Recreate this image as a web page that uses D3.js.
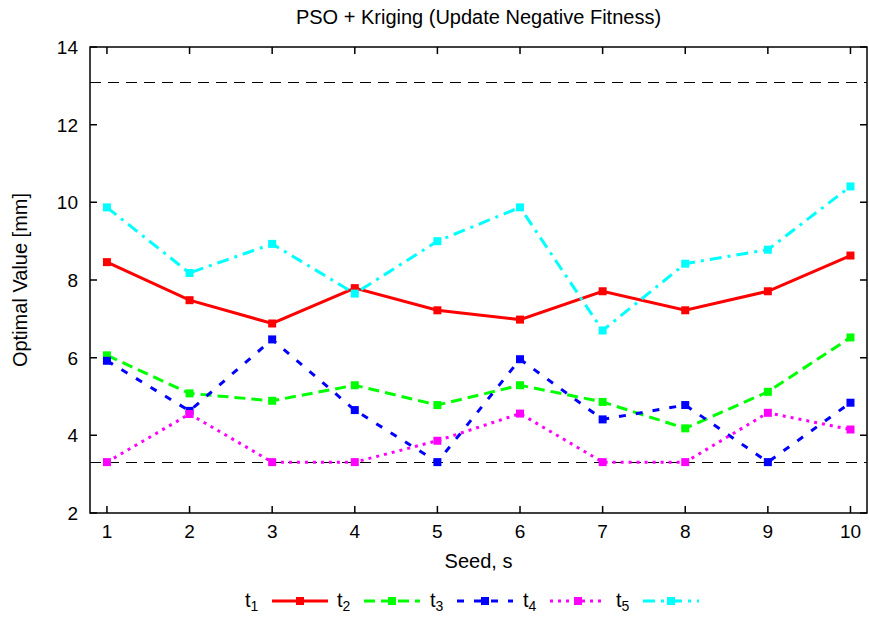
<!DOCTYPE html>
<html>
<head>
<meta charset="utf-8">
<script src="https://cdn.jsdelivr.net/npm/d3@7"></script>
<style>
  body { margin: 0; background: #fff; }
  svg { font-family: "Liberation Sans", Arial, sans-serif; }
</style>
</head>
<body>
<svg width="869" height="619"></svg>
<script>
(function () {
    'use strict';

    const seeds = [1, 2, 3, 4, 5, 6, 7, 8, 9, 10];
    const t1 = [8.46, 7.48, 6.88, 7.79, 7.22, 6.98, 7.71, 7.22, 7.71, 8.63];
    const t2 = [6.06, 5.08, 4.89, 5.29, 4.78, 5.29, 4.86, 4.18, 5.12, 6.52];
    const t3 = [5.92, 4.63, 6.47, 4.65, 3.31, 5.96, 4.41, 4.78, 3.31, 4.84];
    const t4 = [3.31, 4.55, 3.31, 3.31, 3.86, 4.56, 3.31, 3.31, 4.58, 4.15];
    const t5 = [9.87, 8.18, 8.93, 7.65, 9.00, 9.87, 6.70, 8.42, 8.78, 10.41];
    const limits = [13.1, 3.31];
    const yTicks = [2, 4, 6, 8, 10, 12, 14];

    const series = [
        { name: '1', values: t1, color: '#ff0000', dash: null },
        { name: '2', values: t2, color: '#00ff00', dash: '11,6' },
        { name: '3', values: t3, color: '#0000ff', dash: '7,10' },
        { name: '4', values: t4, color: '#ff00ff', dash: '3,5' },
        { name: '5', values: t5, color: '#00ffff', dash: '12,6,3,6' }
    ];

    const margin = ({ top: 47, right: 2, bottom: 106, left: 90 });
    const width = 869;
    const height = 619;

    const x = d3.scaleLinear()
        .domain([0.795, 10.2])
        .range([margin.left, width - margin.right]);

    const y = d3.scaleLinear()
        .domain([2, 14])
        .range([height - margin.bottom, margin.top]);

    const svg = d3.select('svg');

    // limit lines
    svg.append('g').selectAll('line').data(limits).join('line')
        .attr('x1', x.range()[0]).attr('x2', x.range()[1])
        .attr('y1', d => Math.round(y(d)) + 0.5).attr('y2', d => Math.round(y(d)) + 0.5)
        .attr('stroke', '#000').attr('stroke-width', 1)
        .attr('stroke-dasharray', '11,7');

    const line = d3.line().x((d, i) => x(seeds[i])).y(d => y(d));

    series.forEach(s => {
        const g = svg.append('g');
        g.append('path')
            .attr('d', line(s.values))
            .attr('fill', 'none')
            .attr('stroke', s.color)
            .attr('stroke-width', 3)
            .attr('stroke-dasharray', s.dash);
        g.selectAll('rect').data(s.values).join('rect')
            .attr('x', (d, i) => x(seeds[i]) - 4)
            .attr('y', d => y(d) - 4)
            .attr('width', 8).attr('height', 8)
            .attr('fill', s.color);
    });

    // axes frame with mirrored ticks
    const axisG = svg.append('g').attr('fill', 'none').attr('stroke', '#000').attr('stroke-width', 1.5);
    axisG.append('rect')
        .attr('x', x.range()[0]).attr('y', y.range()[1])
        .attr('width', x.range()[1] - x.range()[0])
        .attr('height', y.range()[0] - y.range()[1]);

    const tk = 7;
    axisG.selectAll('.xt').data(seeds).join('path')
        .attr('d', d => `M${x(d)},${y.range()[0]}v${-tk}M${x(d)},${y.range()[1]}v${tk}`);
    axisG.selectAll('.yt').data(yTicks).join('path')
        .attr('d', d => `M${x.range()[0]},${y(d)}h${tk}M${x.range()[1]},${y(d)}h${-tk}`);

    svg.append('g').selectAll('text').data(seeds).join('text')
        .attr('x', d => x(d)).attr('y', y.range()[0] + 25)
        .attr('text-anchor', 'middle').attr('font-size', 19)
        .text(d => d);

    svg.append('g').selectAll('text').data(yTicks).join('text')
        .attr('x', x.range()[0] - 12).attr('y', d => y(d) + 7)
        .attr('text-anchor', 'end').attr('font-size', 19)
        .text(d => d);

    const cx = (x.range()[0] + x.range()[1]) / 2;
    svg.append('text').attr('x', cx).attr('y', 24)
        .attr('text-anchor', 'middle').attr('font-size', 20)
        .text('PSO + Kriging (Update Negative Fitness)');

    svg.append('text').attr('x', cx).attr('y', 568)
        .attr('text-anchor', 'middle').attr('font-size', 20)
        .text('Seed, s');

    svg.append('text')
        .attr('transform', `translate(27,${(y.range()[0] + y.range()[1]) / 2}) rotate(-90)`)
        .attr('text-anchor', 'middle').attr('font-size', 20)
        .text('Optimal Value [mm]');

    // legend
    const legX = [245, 337, 430, 523, 616];
    const legY = 601;
    const lg = svg.append('g');
    series.forEach((s, i) => {
        const lx = legX[i];
        const t = lg.append('text').attr('x', lx).attr('y', legY + 6).attr('font-size', 20);
        t.append('tspan').text('t');
        t.append('tspan').attr('font-size', 14).attr('dy', 4).text(s.name);
        const l0 = lx + 27, l1 = lx + 83;
        lg.append('line')
            .attr('x1', l0).attr('x2', l1).attr('y1', legY).attr('y2', legY)
            .attr('stroke', s.color).attr('stroke-width', 3)
            .attr('stroke-dasharray', s.dash);
        lg.append('rect')
            .attr('x', (l0 + l1) / 2 - 4).attr('y', legY - 4)
            .attr('width', 8).attr('height', 8).attr('fill', s.color);
    });
})();
</script>
</body>
</html>
